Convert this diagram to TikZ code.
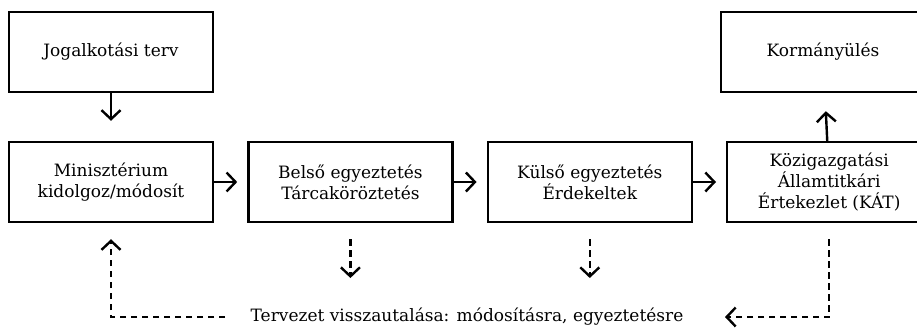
\documentclass[tikz,border=0pt]{standalone}
\usepackage{fontspec}
\setmainfont{DejaVu Serif}
\usetikzlibrary{arrows.meta,positioning}
\tikzset{
  lepes/.style={draw, line width=2.4pt, minimum width=204pt, minimum height=80pt,
    align=center, inner sep=0pt, font=\fontsize{17}{21}\selectfont},
  nyil/.style={-{Straight Barb[length=9pt,width=19pt]}, line width=2.4pt},
  visszanyil/.style={nyil, dash pattern=on 6.5pt off 4.5pt},
}
\begin{document}
\begin{tikzpicture}[x=1pt,y=-1pt]
  \clip (0,0) rectangle (917,327);
  % felső sor
  \node[lepes] (terv) at (111,52) {Jogalkotási terv};
  \node[lepes] (korm) at (823,52) {Kormányülés};
  % középső sor
  \node[lepes] (min) at (111,182) {Minisztérium\\kidolgoz/módosít};
  \node[lepes, right=33pt of min] (belso) {Belső egyeztetés\\Tárcaköröztetés};
  \node[lepes, right=33pt of belso] (kulso) {Külső egyeztetés\\Érdekeltek};
  \node[lepes, right=33pt of kulso] (kat) {Közigazgatási\\Államtitkári\\Értekezlet (KÁT)};
  % visszautalás
  \node[font=\fontsize{17}{21}\selectfont, anchor=base] (vissza) at (467,321.5)
    {Tervezet visszautalása: módosításra, egyeztetésre};
  \coordinate (balveg) at (225,317);
  \coordinate (jobbveg) at (725,317);
  % nyilak
  \draw[nyil, shorten >=20pt] (terv) -- (min);
  \draw[nyil, shorten >=10pt] (min) -- (belso);
  \draw[nyil, shorten >=10pt] (belso) -- (kulso);
  \draw[nyil, shorten >=10pt] (kulso) -- (kat);
  \draw[nyil, shorten >=18pt] (kat) -- (korm);
  % szaggatott nyilak
  \draw[visszanyil, shorten <=16pt, shorten >=39pt] (belso.south) -- (belso.south |- balveg);
  \draw[visszanyil, shorten <=16pt, shorten >=39pt] (kulso.south) -- (kulso.south |- balveg);
  \draw[visszanyil] (balveg) -| ([yshift=-16pt]min.south);
  \draw[visszanyil] ([yshift=-16pt]kat.south) |- (jobbveg);
\end{tikzpicture}
\end{document}
